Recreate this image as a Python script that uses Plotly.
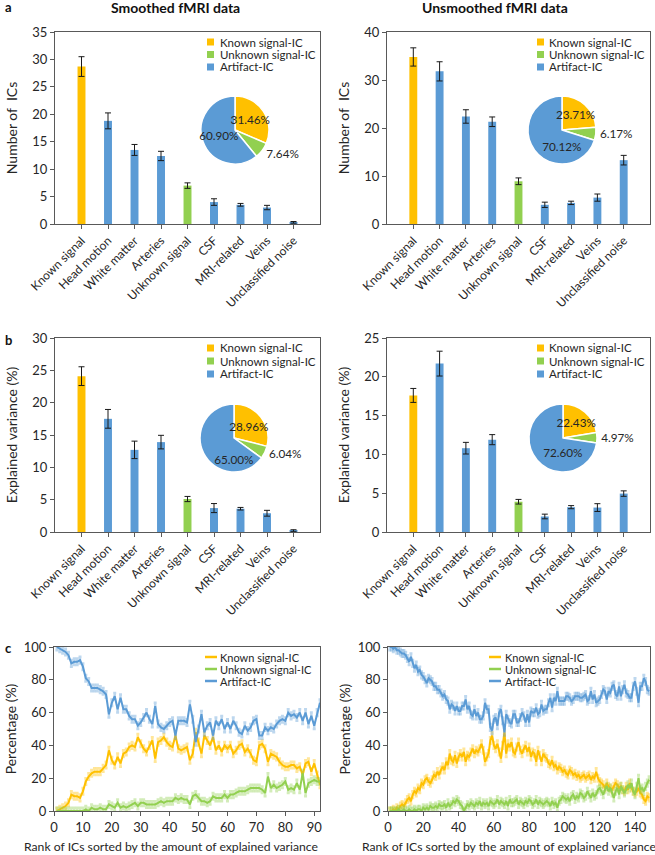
import plotly.graph_objects as go

W, H = 655, 855
FONT = "Lato"
TXT = "#262626"
AX = "#595959"

# ---------------- data ----------------
categories = ["Known signal", "Head motion", "White matter", "Arteries", "Unknown signal",
              "CSF", "MRI-related", "Veins", "Unclassified noise"]
group_names = ["Known signal-IC", "Unknown signal-IC", "Artifact-IC"]
category_group = ["Known signal-IC", "Artifact-IC", "Artifact-IC", "Artifact-IC", "Unknown signal-IC",
                  "Artifact-IC", "Artifact-IC", "Artifact-IC", "Artifact-IC"]
group_colors = {"Known signal-IC": "#FFC000", "Unknown signal-IC": "#92D050", "Artifact-IC": "#5B9BD5"}
group_light = {"Known signal-IC": "rgba(255,192,0,0.40)", "Unknown signal-IC": "rgba(146,208,80,0.40)",
               "Artifact-IC": "rgba(91,155,213,0.40)"}
x_title_text = "Rank of ICs sorted by the amount of explained variance"

n_ics_smoothed = [28.7, 18.8, 13.5, 12.4, 7.0, 4.0, 3.5, 3.0, 0.3]
n_ics_smoothed_err = [1.8, 1.45, 1.0, 0.85, 0.5, 0.6, 0.25, 0.4, 0.15]
n_ics_unsmoothed = [34.8, 31.8, 22.4, 21.3, 8.9, 4.0, 4.4, 5.5, 13.3]
n_ics_unsmoothed_err = [1.9, 2.0, 1.4, 1.0, 0.7, 0.55, 0.35, 0.75, 1.0]
var_smoothed = [24.1, 17.5, 12.7, 13.9, 5.1, 3.7, 3.6, 2.9, 0.2]
var_smoothed_err = [1.45, 1.45, 1.35, 1.05, 0.4, 0.7, 0.2, 0.45, 0.15]
var_unsmoothed = [17.6, 21.7, 10.8, 11.9, 3.9, 2.0, 3.2, 3.15, 4.95]
var_unsmoothed_err = [0.9, 1.6, 0.75, 0.65, 0.3, 0.3, 0.2, 0.5, 0.35]

pie_n_smoothed = [31.46, 7.64, 60.90]
pie_n_unsmoothed = [23.71, 6.17, 70.12]
pie_var_smoothed = [28.96, 6.04, 65.00]
pie_var_unsmoothed = [22.43, 4.97, 72.60]

rank_smoothed = list(range(1, 93))
known_smoothed = [0, 1, 2, 3, 5, 10, 9, 9, 8, 12,
                  18, 21, 23, 24, 24, 24, 26, 28, 37, 31,
                  28, 33, 29, 35, 36, 39, 40, 39, 45, 41,
                  38, 36, 40, 43, 32, 42, 43, 45, 42, 40,
                  39, 46, 38, 37, 38, 39, 31, 35, 48, 42,
                  35, 46, 43, 40, 45, 37, 40, 36, 40, 38,
                  40, 35, 37, 40, 41, 36, 38, 35, 31, 30,
                  40, 41, 38, 30, 35, 34, 33, 30, 28, 27,
                  27, 28, 28, 26, 27, 22, 29, 30, 24, 29,
                  22, 16]
unknown_smoothed = [0, 0, 0, 0, 0, 0, 0, 0, 0, 0,
                    1, 0, 2, 1, 1, 2, 1, 1, 4, 3,
                    2, 5, 2, 3, 2, 3, 4, 5, 3, 5,
                    5, 4, 4, 4, 4, 5, 6, 5, 6, 6,
                    6, 8, 7, 8, 7, 7, 4, 9, 10, 8,
                    6, 6, 5, 6, 9, 8, 8, 8, 10, 8,
                    10, 10, 11, 12, 12, 12, 13, 14, 14, 14,
                    14, 13, 11, 21, 14, 16, 14, 15, 16, 18,
                    13, 14, 13, 17, 13, 23, 11, 17, 18, 19,
                    18, 18]
artifact_smoothed = [100, 99, 98, 97, 95, 90, 91, 91, 92, 88,
                     81, 79, 75, 75, 75, 74, 73, 71, 59, 66,
                     70, 62, 69, 62, 62, 58, 56, 56, 52, 54,
                     57, 60, 56, 53, 64, 53, 51, 50, 52, 54,
                     55, 46, 55, 55, 55, 54, 65, 56, 42, 50,
                     59, 48, 52, 54, 46, 55, 52, 56, 50, 54,
                     50, 55, 52, 48, 47, 52, 49, 51, 55, 56,
                     46, 46, 51, 49, 51, 50, 53, 55, 56, 55,
                     60, 58, 59, 57, 60, 55, 60, 53, 58, 52,
                     60, 66]

rank_unsmoothed = list(range(1, 149))
known_unsmoothed = [0, 0, 1, 0, 2, 1, 3, 4, 3, 5,
                    7, 8, 6, 10, 12, 11, 14, 13, 17, 16,
                    19, 20, 18, 17, 19, 22, 21, 24, 22, 25,
                    27, 25, 30, 28, 35, 31, 30, 34, 29, 33,
                    35, 33, 36, 30, 34, 33, 36, 38, 35, 37,
                    36, 38, 41, 37, 30, 33, 35, 43, 46, 40,
                    38, 41, 36, 32, 40, 48, 35, 41, 39, 42,
                    36, 35, 39, 42, 37, 35, 38, 40, 36, 39,
                    33, 36, 35, 30, 37, 34, 30, 35, 33, 32,
                    29, 28, 31, 27, 28, 25, 27, 26, 24, 25,
                    23, 22, 25, 24, 22, 23, 21, 22, 20, 21,
                    22, 20, 21, 22, 19, 21, 20, 24, 20, 18,
                    17, 16, 14, 17, 15, 14, 13, 15, 17, 16,
                    14, 15, 13, 12, 15, 13, 17, 14, 12, 11,
                    12, 14, 11, 10, 7, 6, 9, 8]
unknown_unsmoothed = [0, 0, 0, 0, 0, 1, 0, 0, 1, 0,
                      0, 1, 0, 0, 1, 0, 1, 1, 0, 2,
                      1, 2, 1, 3, 2, 2, 3, 2, 4, 3,
                      3, 4, 2, 5, 3, 4, 6, 5, 7, 6,
                      4, 3, 0, 2, 4, 3, 5, 4, 3, 5,
                      4, 6, 3, 5, 4, 5, 3, 6, 5, 4,
                      5, 7, 4, 6, 5, 4, 6, 3, 7, 5,
                      5, 6, 7, 4, 6, 5, 4, 6, 5, 7,
                      6, 4, 5, 7, 4, 6, 5, 4, 5, 6,
                      5, 3, 6, 4, 5, 2, 6, 7, 9, 8,
                      7, 8, 6, 9, 10, 7, 9, 8, 11, 10,
                      8, 9, 12, 10, 8, 11, 9, 10, 13, 14,
                      12, 10, 13, 15, 12, 14, 11, 8, 12, 14,
                      10, 15, 13, 11, 13, 16, 14, 17, 12, 10,
                      15, 20, 13, 14, 12, 15, 17, 19]
artifact_unsmoothed = [100, 100, 99, 100, 98, 98, 97, 96, 96, 95,
                       93, 91, 94, 90, 87, 89, 85, 86, 83, 82,
                       80, 78, 81, 80, 79, 76, 76, 74, 74, 72,
                       70, 71, 68, 67, 62, 65, 64, 61, 64, 61,
                       61, 64, 64, 68, 62, 64, 59, 58, 62, 58,
                       60, 56, 56, 58, 66, 62, 62, 51, 49, 56,
                       57, 52, 60, 62, 55, 48, 59, 56, 54, 53,
                       59, 59, 54, 54, 57, 60, 58, 54, 59, 54,
                       61, 60, 60, 63, 59, 60, 65, 61, 62, 62,
                       66, 69, 63, 69, 67, 73, 67, 67, 67, 67,
                       70, 70, 69, 67, 68, 70, 70, 70, 69, 69,
                       70, 71, 67, 68, 73, 68, 71, 66, 67, 68,
                       71, 74, 73, 68, 73, 72, 76, 77, 71, 70,
                       76, 70, 74, 77, 72, 71, 69, 69, 76, 79,
                       73, 66, 76, 76, 81, 79, 74, 73]

# ---------------- helpers ----------------
def fx(px):
    return px / W


def fy(py):
    return 1 - py / H


fig = go.Figure()

bar_panels = [
    ("x", "y", n_ics_smoothed, n_ics_smoothed_err, pie_n_smoothed),
    ("x2", "y2", n_ics_unsmoothed, n_ics_unsmoothed_err, pie_n_unsmoothed),
    ("x3", "y3", var_smoothed, var_smoothed_err, pie_var_smoothed),
    ("x4", "y4", var_unsmoothed, var_unsmoothed_err, pie_var_unsmoothed),
]
pie_centers = [(235, 130), (562, 130), (234, 438), (563, 438)]
PIE_R = 34

for (xa, ya, vals, errs, pie_vals), (cx, cy) in zip(bar_panels, pie_centers):
    fig.add_trace(go.Bar(
        x=categories, y=vals, xaxis=xa, yaxis=ya, width=0.3,
        marker=dict(color=[group_colors[g] for g in category_group], line=dict(width=0)),
        error_y=dict(type="data", array=errs, color="#1a1a1a", thickness=1, width=3),
        showlegend=False,
    ))
    dom = dict(x=[fx(cx - PIE_R), fx(cx + PIE_R)], y=[fy(cy + PIE_R), fy(cy - PIE_R)])
    # coloured slices
    fig.add_trace(go.Pie(
        labels=group_names, values=pie_vals, sort=False, direction="clockwise", rotation=0,
        marker=dict(colors=[group_colors[g] for g in group_names], line=dict(color="white", width=1.5)),
        textinfo="none", domain=dom, showlegend=False, hoverinfo="label+percent",
    ))
    # percentage labels drawn over all slices
    fig.add_trace(go.Pie(
        labels=group_names, values=pie_vals, sort=False, direction="clockwise", rotation=0,
        marker=dict(colors=["rgba(0,0,0,0)"] * 3, line=dict(width=0)),
        texttemplate="%{value:.2f}%", textposition=["inside", "outside", "inside"],
        insidetextorientation="horizontal",
        textfont=dict(family=FONT, size=12, color=TXT),
        domain=dom, showlegend=False, hoverinfo="skip",
    ))

line_panels = [
    ("x5", "y5", rank_smoothed, known_smoothed, unknown_smoothed, artifact_smoothed),
    ("x6", "y6", rank_unsmoothed, known_unsmoothed, unknown_unsmoothed, artifact_unsmoothed),
]
for xa, ya, ranks, kn, un, ar in line_panels:
    for name, series in zip(group_names, [kn, un, ar]):
        fig.add_trace(go.Scatter(
            x=ranks, y=series, xaxis=xa, yaxis=ya, mode="lines", name=name,
            line=dict(color=group_colors[name], width=2),
            error_y=dict(type="constant", value=2, color=group_light[name], thickness=2.5, width=1.5),
            showlegend=False,
        ))

# ---------------- axes ----------------
tickfont = dict(family=FONT, size=13, color=TXT)
common = dict(showline=True, linecolor=AX, linewidth=1, mirror=True, ticks="outside",
              ticklen=4, tickcolor=AX, showgrid=False, zeroline=False, tickfont=tickfont)

left_x = [fx(55), fx(320)]
right_x = [fx(387), fx(650)]
row_a = [fy(224), fy(32)]
row_b = [fy(532), fy(338)]
row_c = [fy(811), fy(647)]

cat_x = dict(common, type="category", categoryorder="array", categoryarray=categories,
             range=[-1, 9], tickangle=-45, tickfont=dict(family=FONT, size=12, color=TXT))
ytitle = lambda t: dict(text=t, font=dict(family=FONT, size=14, color=TXT))

fig.update_layout(
    xaxis=dict(cat_x, domain=left_x, anchor="y"),
    yaxis=dict(common, domain=row_a, anchor="x", range=[0, 35], dtick=5, title=ytitle("Number of\u00a0 ICs")),
    xaxis2=dict(cat_x, domain=right_x, anchor="y2"),
    yaxis2=dict(common, domain=row_a, anchor="x2", range=[0, 40], dtick=10, title=ytitle("Number of\u00a0 ICs")),
    xaxis3=dict(cat_x, domain=left_x, anchor="y3"),
    yaxis3=dict(common, domain=row_b, anchor="x3", range=[0, 30], dtick=5, title=ytitle("Explained variance (%)")),
    xaxis4=dict(cat_x, domain=right_x, anchor="y4"),
    yaxis4=dict(common, domain=row_b, anchor="x4", range=[0, 25], dtick=5, title=ytitle("Explained variance (%)")),
    xaxis5=dict(common, domain=[fx(54), fx(320)], anchor="y5", range=[0, 92], dtick=10),
    yaxis5=dict(common, domain=row_c, anchor="x5", range=[0, 100], dtick=20, title=ytitle("Percentage (%)")),
    xaxis6=dict(common, domain=[fx(388), fx(650)], anchor="y6", range=[0, 148.5], dtick=20,
                minor=dict(dtick=10, ticks="outside", ticklen=4, tickcolor=AX)),
    yaxis6=dict(common, domain=row_c, anchor="x6", range=[0, 100], dtick=20, title=ytitle("Percentage (%)")),
)

# ---------------- custom legends, titles ----------------
shapes = []
annotations = []


def add_legend(x_key, x_text, rows, kind, size=11.5):
    for name, ry in zip(group_names, rows):
        if kind == "square":
            shapes.append(dict(type="rect", xref="paper", yref="paper",
                               x0=fx(x_key), x1=fx(x_key + 7), y0=fy(ry + 3.5), y1=fy(ry - 3.5),
                               fillcolor=group_colors[name], line=dict(width=0)))
        else:
            shapes.append(dict(type="line", xref="paper", yref="paper",
                               x0=fx(x_key), x1=fx(x_key + 12), y0=fy(ry), y1=fy(ry),
                               line=dict(color=group_colors[name], width=2.5)))
        annotations.append(dict(text=name, xref="paper", yref="paper", x=fx(x_text), y=fy(ry),
                                xanchor="left", yanchor="middle", showarrow=False,
                                font=dict(family=FONT, size=size, color=TXT)))


add_legend(207, 218, [42, 54.5, 67], "square")
add_legend(537, 547, [42, 54.5, 67], "square")
add_legend(207, 218, [348, 361, 374], "square")
add_legend(537, 547, [348, 361, 374], "square")
add_legend(205, 218, [657, 669, 681], "line", 11)
add_legend(489, 503, [657, 669, 681], "line", 11)

for text, x, y in [("Smoothed fMRI data", 175, 8), ("Unsmoothed fMRI data", 495, 8)]:
    annotations.append(dict(text=f"<b>{text}</b>", xref="paper", yref="paper", x=fx(x), y=fy(y),
                            xanchor="center", yanchor="middle", showarrow=False,
                            font=dict(family=FONT, size=14, color="#111111")))
for text, y in [("a", 7), ("b", 340), ("c", 648)]:
    annotations.append(dict(text=f"<b>{text}</b>", xref="paper", yref="paper", x=fx(3), y=fy(y),
                            xanchor="left", yanchor="middle", showarrow=False,
                            font=dict(family=FONT, size=13, color="#111111")))
for x in (171, 509):
    annotations.append(dict(text=x_title_text, xref="paper", yref="paper", x=fx(x), y=fy(846),
                            xanchor="center", yanchor="middle", showarrow=False,
                            font=dict(family=FONT, size=12.2, color=TXT)))

fig.update_layout(
    template="none", width=W, height=H, margin=dict(l=0, r=0, t=0, b=0),
    paper_bgcolor="white", plot_bgcolor="white", barmode="overlay",
    shapes=shapes, annotations=annotations, showlegend=False,
    uniformtext=dict(minsize=11, mode="show"),
    font=dict(family=FONT, color=TXT),
)

fig.write_html(
    "out.html",
    config={"displayModeBar": False},
    post_script="document.body.style.margin='0';document.body.style.overflow='hidden';",
)
